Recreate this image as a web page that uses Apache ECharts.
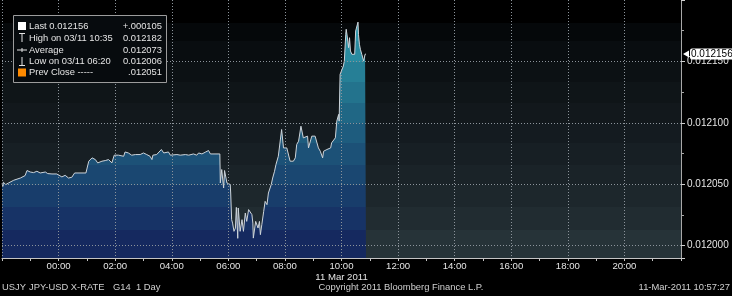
<!DOCTYPE html>
<html><head><meta charset="utf-8">
<script src="https://cdn.jsdelivr.net/npm/echarts@6/dist/echarts.min.js"></script>
<style>html,body{margin:0;padding:0;background:#000;}#c{width:732px;height:296px;}</style>
</head><body><div id="c"></div>
<script>
// ---- data ----
const times = [
 '22:00','22:02','22:03','22:08','22:14','22:25','22:28','22:39','22:49','22:53',
 '23:00','23:07','23:14','23:21','23:25','23:32','23:37','23:39','23:46','23:49',
 '23:56','00:00','00:07','00:14','00:21','00:25','00:28','00:34','00:58','01:00',
 '01:04','01:11','01:18','01:23','01:32','01:39','01:46','01:53','01:57','01:58',
 '02:07','02:18','02:21','02:28','02:35','02:43','02:46','02:53','03:00','03:07',
 '03:14','03:18','03:20','03:28','03:32','03:38','03:43','03:46','03:53','03:57',
 '04:11','04:18','04:29','04:36','04:46','04:53','04:57','05:04','05:11','05:18',
 '05:22','05:42','05:43','05:46','05:50','05:52','05:55','05:57','06:04','06:05',
 '06:07','06:09','06:12','06:15','06:17','06:20','06:21','06:23','06:25','06:29',
 '06:32','06:36','06:39','06:43','06:46','06:50','06:52','06:53','06:57','06:58',
 '07:03','07:06','07:08','07:11','07:15','07:18','07:22','07:25','07:29','07:31',
 '07:34','07:38','07:41','07:43','07:46','07:50','07:53','07:57','08:01','08:04',
 '08:08','08:11','08:18','08:22','08:25','08:29','08:34','08:38','08:39','08:48',
 '08:50','08:54','08:57','09:04','09:08','09:11','09:15','09:18','09:20','09:22',
 '09:29','09:32','09:37','09:39','09:43','09:47','09:50','09:54','09:55','09:57',
 '10:01','10:04','10:06','10:09','10:10','10:12','10:15','10:17','10:19','10:22',
 '10:25','10:28','10:30','10:35','10:36','10:38','10:40','10:43','10:45','10:47',
 '10:50','10:52'
];
const rates = [
 0.0120506,0.0120484,0.0120516,0.0120498,0.0120511,0.0120533,0.0120524,0.0120551,0.0120571,0.0120612,
 0.0120600,0.0120595,0.0120606,0.0120592,0.0120606,0.0120600,0.0120587,0.0120571,0.0120584,0.0120568,
 0.0120584,0.0120571,0.0120560,0.0120573,0.0120551,0.0120538,0.0120557,0.0120592,0.0120592,0.0120606,
 0.0120688,0.0120715,0.0120701,0.0120674,0.0120688,0.0120693,0.0120701,0.0120674,0.0120661,0.0120737,
 0.0120737,0.0120728,0.0120763,0.0120755,0.0120737,0.0120742,0.0120728,0.0120742,0.0120755,0.0120742,
 0.0120728,0.0120701,0.0120737,0.0120742,0.0120747,0.0120783,0.0120755,0.0120769,0.0120763,0.0120737,
 0.0120742,0.0120737,0.0120742,0.0120737,0.0120747,0.0120737,0.0120755,0.0120747,0.0120761,0.0120775,
 0.0120747,0.0120747,0.0120511,0.0120620,0.0120470,0.0120612,0.0120606,0.0120511,0.0120498,0.0120429,
 0.0120212,0.0120184,0.0120117,0.0120144,0.0120312,0.0120060,0.0120307,0.0120321,0.0120117,0.0120212,
 0.0120117,0.0120266,0.0120198,0.0120294,0.0120280,0.0120253,0.0120184,0.0120062,0.0120076,0.0120198,
 0.0120144,0.0120198,0.0120090,0.0120171,0.0120280,0.0120361,0.0120334,0.0120429,0.0120429,0.0120498,
 0.0120551,0.0120606,0.0120661,0.0120661,0.0120728,0.0120742,0.0120946,0.0120796,0.0120810,0.0120796,
 0.0120810,0.0120688,0.0120688,0.0120715,0.0120824,0.0120851,0.0120973,0.0120973,0.0120878,0.0120892,
 0.0120796,0.0120796,0.0120892,0.0120892,0.0120878,0.0120796,0.0120769,0.0120769,0.0120715,0.0120769,
 0.0120783,0.0120796,0.0120796,0.0120837,0.0120851,0.0120878,0.0121014,0.0121069,0.0121014,0.0121395,
 0.0121408,0.0121463,0.0121503,0.0121721,0.0121762,0.0121707,0.0121612,0.0121693,0.0121585,0.0121558,
 0.0121544,0.0121558,0.0121748,0.0121820,0.0121721,0.0121640,0.0121599,0.0121558,0.0121544,0.0121503,
 0.0121558,0.0121560
];
const prevClose = 0.012051;
const lastRate = 0.012156;
const yMin = 0.01199, yMax = 0.0122;
const xMin = -120, xMax = 1320;   // minutes from 00:00, 11 Mar 2011
const dateLabel = '11 Mar 2011';
const legendLabels = ['Last 0.012156', 'High on 03/11 10:35', 'Average', 'Low on 03/11 06:20', 'Prev Close -----'];
const legendValues = ['+.000105', '0.012182', '0.012073', '0.012006', '.012051'];
const footerLeft = ['USJY', 'JPY-USD X-RATE', 'G14', '1 Day'];
const footerCenter = 'Copyright 2011 Bloomberg Finance L.P.';
const footerRight = '11-Mar-2011 10:57:27';

// ---- helpers ----
function toMinutes(t) {
  const p = t.split(':').map(Number);
  let v = p[0] * 60 + p[1];
  if (p[0] >= 22) v -= 1440;
  return v;
}
const seriesData = times.map((t, i) => [toMinutes(t), rates[i]]);
const pad2 = n => (n < 10 ? '0' : '') + n;

const FONT = 'Liberation Sans';
const bandEdges = [0, 23, 41, 62, 82, 103, 123, 143, 165, 185, 207, 230, 258];
const bgBands = ['#000000','#05080a','#090d10','#0c1114','#0f1518','#12181c','#141b20','#171f24','#1a2328','#1d272c','#212c31','#263338'];
const fillBands = ['#2d95aa','#2d95aa','#2a8ba0','#267f96','#23738d','#206785','#1e5c7e','#1c5177','#1a4771','#183d6b','#173366','#15295f'];
function stepped(colors, global) {
  const H = bandEdges[bandEdges.length - 1];
  const stops = [];
  colors.forEach((c, i) => {
    stops.push({ offset: bandEdges[i] / H, color: c });
    stops.push({ offset: bandEdges[i + 1] / H, color: c });
  });
  return global
    ? { type: 'linear', x: 0, y: 0, x2: 0, y2: H, global: true, colorStops: stops }
    : { type: 'linear', x: 0, y: 0, x2: 0, y2: 1, colorStops: stops };
}

const textCol = '#e4e4e4';
const gridLine = { color: '#8c949b', width: 1, type: [1, 2] };

// legend box graphic
const rowY = [26, 38, 50, 61.5, 72.5];
const icon = '#e4e4e4';
const legendEls = [
  { type: 'rect', shape: { x: 13.5, y: 15.5, width: 153, height: 67 }, style: { fill: '#070b0e', stroke: '#9c9c9c', lineWidth: 1 } },
  { type: 'rect', shape: { x: 18, y: rowY[0] - 4, width: 8, height: 8 }, style: { fill: '#ffffff' } },
  { type: 'line', shape: { x1: 22, y1: rowY[1] - 4.5, x2: 22, y2: rowY[1] + 4 }, style: { stroke: icon, lineWidth: 1 } },
  { type: 'line', shape: { x1: 19, y1: rowY[1] - 4.5, x2: 25, y2: rowY[1] - 4.5 }, style: { stroke: icon, lineWidth: 1 } },
  { type: 'line', shape: { x1: 17, y1: rowY[2], x2: 27, y2: rowY[2] }, style: { stroke: icon, lineWidth: 1 } },
  { type: 'line', shape: { x1: 22, y1: rowY[2] - 2, x2: 22, y2: rowY[2] + 2 }, style: { stroke: icon, lineWidth: 1 } },
  { type: 'line', shape: { x1: 22, y1: rowY[3] - 4.5, x2: 22, y2: rowY[3] + 4 }, style: { stroke: icon, lineWidth: 1 } },
  { type: 'line', shape: { x1: 19, y1: rowY[3] + 4, x2: 25, y2: rowY[3] + 4 }, style: { stroke: icon, lineWidth: 1 } },
  { type: 'rect', shape: { x: 18, y: rowY[4] - 4, width: 8, height: 8 }, style: { fill: '#ff8a00' } }
];
legendLabels.forEach((t, i) => {
  legendEls.push({ type: 'text', x: 29, y: rowY[i], style: { text: t, fill: textCol, font: '9.4px ' + FONT, textVerticalAlign: 'middle' } });
  legendEls.push({ type: 'text', x: 162, y: rowY[i], style: { text: legendValues[i], fill: textCol, font: '9.4px ' + FONT, textAlign: 'right', textVerticalAlign: 'middle' } });
});
legendEls.forEach(e => { e.z = 100; });
const footerX = [2, 29, 113, 136];
const footerEls = footerLeft.map((t, i) => ({ type: 'text', x: footerX[i], y: 287, z: 100, style: { text: t, fill: '#d0d0d0', font: '9.4px ' + FONT, textVerticalAlign: 'middle' } }));
footerEls.push({ type: 'text', x: 401, y: 287, z: 100, style: { text: footerCenter, fill: '#d0d0d0', font: '9.4px ' + FONT, textAlign: 'center', textVerticalAlign: 'middle' } });
footerEls.push({ type: 'text', x: 730, y: 287, z: 100, style: { text: footerRight, fill: '#d0d0d0', font: '9.4px ' + FONT, textAlign: 'right', textVerticalAlign: 'middle' } });

const chart = echarts.init(document.getElementById('c'), null, { renderer: 'canvas' });
chart.setOption({
  backgroundColor: '#000000',
  animation: false,
  textStyle: { fontFamily: FONT },
  grid: { left: 2, right: 51, top: 0, bottom: 38, show: true, backgroundColor: stepped(bgBands, false), borderWidth: 0 },
  xAxis: {
    type: 'value', min: xMin, max: xMax, interval: 120, z: 3,
    axisLine: { show: true, onZero: false, lineStyle: { color: '#c4c4c4', width: 1 } },
    axisTick: { show: true, length: 3, lineStyle: { color: '#c4c4c4' } },
    minorTick: { show: true, splitNumber: 2, length: 3, lineStyle: { color: '#c4c4c4' } },
    splitLine: { show: true, showMaxLine: false, lineStyle: gridLine },
    axisLabel: {
      color: textCol, fontSize: 9.6, fontFamily: FONT, margin: 3, lineHeight: 11,
      showMinLabel: false, showMaxLabel: false,
      formatter: v => {
        const h = ((Math.round(v / 60) % 24) + 24) % 24;
        const s = pad2(h) + ':00';
        return v === 600 ? s + '\n' + dateLabel : s;
      }
    }
  },
  yAxis: {
    type: 'value', position: 'right', min: yMin, max: yMax, z: 3, scale: true,
    axisLine: { show: true, onZero: false, lineStyle: { color: '#a8a8a8', width: 1 } },
    axisTick: { show: true, length: 4, lineStyle: { color: '#d0d0d0' } },
    minorTick: { show: true, splitNumber: 2, length: 3, lineStyle: { color: '#a8a8a8' } },
    splitLine: { show: true, showMinLine: false, showMaxLine: false, lineStyle: gridLine },
    axisLabel: {
      color: textCol, fontSize: 10, fontFamily: FONT, margin: 6,
      showMinLabel: false, showMaxLabel: false,
      formatter: v => v.toFixed(6)
    }
  },
  series: [{
    type: 'line',
    data: seriesData,
    showSymbol: false,
    symbol: 'none',
    z: 2,
    lineStyle: { color: '#cdd4da', width: 1 },
    areaStyle: { origin: 'start', color: stepped(fillBands, true), opacity: 1 },
    markLine: {
      silent: true, symbol: 'none', z: 6,
      label: { show: false },
      lineStyle: { color: '#ff8c00', width: 2, type: [2, 2] },
      data: [{ yAxis: prevClose }]
    },
    markPoint: {
      silent: true, z: 10,
      symbol: 'triangle', symbolRotate: 90, symbolSize: [7, 6], symbolOffset: [5, 0],
      itemStyle: { color: '#ffffff' },
      label: {
        show: true, position: 'right', distance: 1,
        backgroundColor: '#ffffff', color: '#000000', fontSize: 10, fontFamily: FONT,
        padding: [1, 2, 0, 1], borderRadius: 2,
        formatter: () => lastRate.toFixed(6)
      },
      data: [{ coord: [xMax, lastRate] }]
    }
  }],
  graphic: legendEls.concat(footerEls)
});
</script>
</body></html>
